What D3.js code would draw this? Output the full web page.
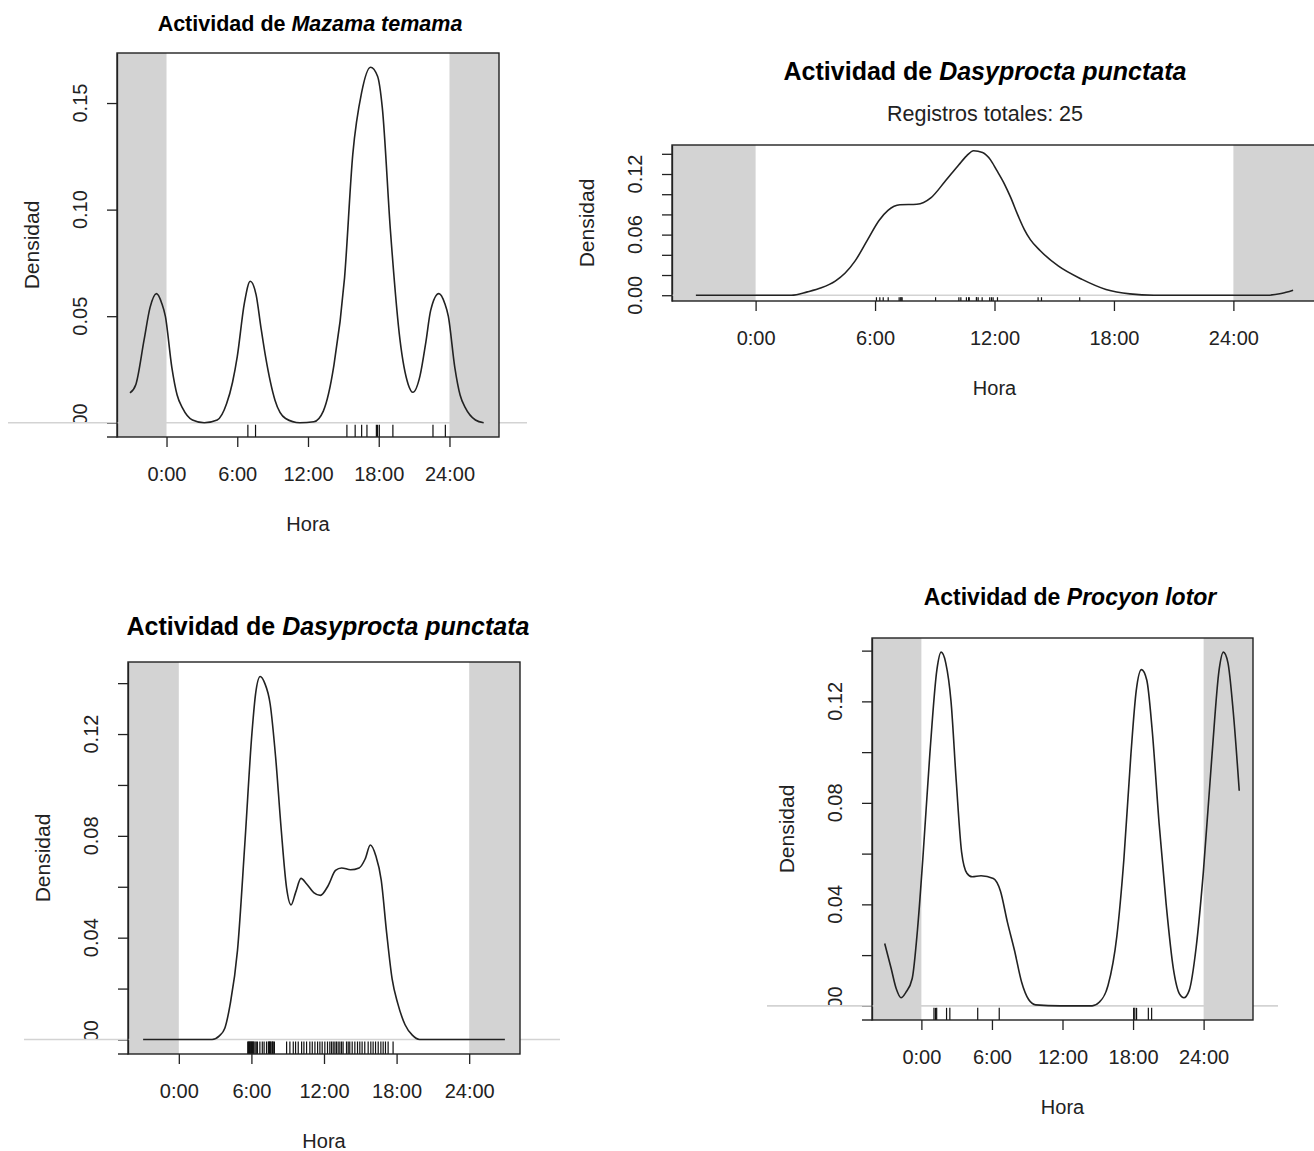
<!DOCTYPE html>
<html>
<head>
<meta charset="utf-8">
<script src="https://cdn.jsdelivr.net/npm/d3@7"></script>
<style>
    body { margin: 0; background: #fff; }
    svg text { font-family: "Liberation Sans", Arial, sans-serif; fill: #222; }
</style>
</head>
<body>
<svg id="chart" width="1314" height="1151"></svg>
<script>
// hour axis shared by every panel
const hourTicks = [0, 6, 12, 18, 24];
const hourLabels = ['0:00', '6:00', '12:00', '18:00', '24:00'];

// Mazama temama
const mazamaHours = [-3.1, -2.6, -1.9, -1.4, -0.85, -0.4, -0.1, 0.45, 0.9, 1.35, 2.2, 3.2, 4.3, 5.1, 5.6, 6.0, 6.6, 7.1, 7.6, 8.0, 8.4, 9.2, 10.1, 11.3, 12.5, 13.3, 14.2, 15.1, 15.8, 16.55, 17.3, 17.9, 18.3, 19.0, 19.8, 20.5, 20.9, 21.5, 22.0, 22.4, 23.1, 23.6, 23.9, 24.45, 24.9, 25.35, 26.2, 26.9];
const mazamaDensity = [0.014, 0.018, 0.039, 0.054, 0.0606, 0.056, 0.050, 0.026, 0.013, 0.007, 0.0013, 0.0, 0.0013, 0.009, 0.019, 0.031, 0.056, 0.0664, 0.060, 0.045, 0.031, 0.0106, 0.002, 0.0, 0.0005, 0.0055, 0.027, 0.068, 0.126, 0.155, 0.1668, 0.1626, 0.148, 0.0895, 0.039, 0.018, 0.0143, 0.022, 0.038, 0.0526, 0.0606, 0.056, 0.050, 0.026, 0.013, 0.007, 0.0013, 0.0];
const mazamaRecords = [6.9, 7.55, 15.3, 16.0, 16.55, 17.0, 17.8, 17.9, 18.05, 19.2, 22.6, 23.65];
const mazamaYTicks = [0, 0.05, 0.10, 0.15];
const mazamaYLabels = ['0.00', '0.05', '0.10', '0.15'];

// Dasyprocta punctata (top, 25 records)
const dasyTopHours = [-3.0, 1.8, 2.6, 3.3, 4.0, 4.5, 5.0, 5.6, 6.2, 6.65, 7.25, 8.1, 8.8, 9.5, 10.2, 10.6, 10.95, 11.4, 11.8, 12.1, 12.5, 12.8, 13.2, 13.5, 13.8, 14.3, 15.2, 16.4, 17.6, 18.8, 20.0, 25.7, 26.4, 27.0];
const dasyTopDensity = [0, 0, 0.0033, 0.0073, 0.014, 0.022, 0.034, 0.054, 0.074, 0.084, 0.0895, 0.090, 0.0963, 0.1123, 0.129, 0.138, 0.143, 0.1413, 0.134, 0.124, 0.110, 0.0973, 0.078, 0.065, 0.055, 0.044, 0.029, 0.0157, 0.0057, 0.0013, 0, 0, 0.0017, 0.005];
const dasyTopRecords = [6.07, 6.24, 6.41, 6.66, 7.21, 7.3, 7.36, 9.04, 10.21, 10.31, 10.59, 10.7, 10.73, 11.09, 11.1, 11.18, 11.38, 11.76, 11.85, 11.93, 12.15, 14.19, 14.36, 16.28, 7.3];
const dasyTopYTicks = [0, 0.02, 0.04, 0.06, 0.08, 0.10, 0.12, 0.14];
const dasyTopYLabels = ['0.00', '', '', '0.06', '', '', '0.12', ''];

// Dasyprocta punctata (bottom)
const dasyBotHours = [-2.95, 2.75, 3.35, 3.8, 4.25, 4.85, 5.45, 6.05, 6.35, 6.73, 7.1, 7.55, 8.0, 8.45, 8.9, 9.28, 9.65, 10.1, 10.55, 11.15, 11.7, 12.35, 12.95, 13.45, 14.2, 14.9, 15.4, 15.83, 16.28, 16.73, 17.18, 17.63, 18.1, 18.7, 19.3, 19.9, 26.95];
const dasyBotDensity = [0, 0, 0.0014, 0.0044, 0.014, 0.035, 0.0764, 0.1207, 0.136, 0.1426, 0.14, 0.1318, 0.111, 0.0833, 0.0598, 0.0529, 0.0577, 0.0633, 0.0612, 0.0577, 0.0566, 0.0605, 0.0664, 0.0674, 0.0667, 0.0674, 0.0709, 0.0764, 0.0722, 0.0626, 0.0418, 0.0238, 0.0141, 0.0058, 0.0017, 0, 0];
const dasyBotRecords = [5.7, 5.75, 5.8, 5.85, 5.9, 5.95, 6.0, 6.05, 6.1, 6.15, 6.2, 6.3, 6.4, 6.5, 6.7, 6.9, 7.05, 7.25, 7.4, 7.45, 7.5, 7.55, 7.6, 7.7, 7.75, 7.8, 7.9,
    8.91, 9.18, 9.46, 9.65, 9.87, 10.15, 10.34, 10.56, 10.83, 11.03, 11.25, 11.47, 11.66, 11.85, 12.07, 12.29, 12.48, 12.62, 12.76, 12.9, 13.03, 13.17, 13.31, 13.45, 13.58, 13.86, 14.0, 14.13, 14.33, 14.55, 14.77, 14.96, 15.15, 15.37, 15.65, 15.87, 16.06, 16.26, 16.48, 16.7, 16.89, 17.08, 17.3, 17.71];
const dasyBotYTicks = [0, 0.02, 0.04, 0.06, 0.08, 0.10, 0.12, 0.14];
const dasyBotYLabels = ['0.00', '', '0.04', '', '0.08', '', '0.12', ''];

// Procyon lotor
const procyonHours = [-3.12, -2.58, -2.13, -1.74, -1.32, -0.78, -0.33, 0.12, 0.72, 1.32, 1.68, 2.07, 2.52, 2.97, 3.42, 3.87, 4.32, 5.07, 6.12, 6.72, 7.32, 7.92, 8.52, 9.12, 9.72, 11.82, 14.52, 15.12, 15.87, 16.62, 17.22, 17.82, 18.27, 18.72, 19.17, 19.62, 20.22, 20.82, 21.42, 21.96, 22.32, 22.77, 23.37, 23.97, 24.72, 25.32, 25.68, 26.07, 26.52, 27.03];
const procyonDensity = [0.0246, 0.0149, 0.0066, 0.0032, 0.0053, 0.0108, 0.0301, 0.0578, 0.0993, 0.1325, 0.1394, 0.1352, 0.12, 0.0882, 0.0606, 0.0523, 0.0509, 0.0513, 0.0502, 0.0453, 0.0329, 0.0218, 0.0094, 0.0025, 0.0004, 0, 0, 0.0014, 0.008, 0.0274, 0.0578, 0.0993, 0.1242, 0.1325, 0.1283, 0.109, 0.0716, 0.0398, 0.0149, 0.0046, 0.0032, 0.006, 0.0232, 0.0523, 0.0993, 0.1325, 0.1394, 0.1352, 0.1159, 0.0848];
const procyonRecords = [1.07, 1.2, 1.3, 2.14, 2.42, 4.79, 6.62, 18.05, 18.15, 18.3, 19.3, 19.58];
const procyonYTicks = [0, 0.02, 0.04, 0.06, 0.08, 0.10, 0.12, 0.14];
const procyonYLabels = ['0.00', '', '0.04', '', '0.08', '', '0.12', ''];

const svg = d3.select('#chart');

class ActivityPanel {
    constructor(opts) {
        this.o = opts;
        this.g = svg.append('g');
        this.x = d3.scaleLinear().domain([-4.2, 28.2]).range([opts.box.l, opts.box.r]);
        const ymax = d3.max(opts.density);
        this.y = d3.scaleLinear().domain([-0.04 * ymax, 1.04 * ymax]).range([opts.box.b, opts.box.t]);
        this.draw();
    }

    draw() {
        const o = this.o, x = this.x, y = this.y, g = this.g;
        const b = o.box;

        // night shading
        g.append('rect').attr('x', b.l).attr('y', b.t)
            .attr('width', x(0) - b.l).attr('height', b.b - b.t).attr('fill', '#d3d3d3');
        g.append('rect').attr('x', x(24)).attr('y', b.t)
            .attr('width', b.r - x(24)).attr('height', b.b - b.t).attr('fill', '#d3d3d3');

        // y axis (ticks only, labels drawn rotated below)
        g.append('g').attr('transform', `translate(${b.l},0)`)
            .call(d3.axisLeft(y).tickValues(o.yTicks).tickSize(10).tickSizeOuter(0).tickFormat(''))
            .call(a => a.selectAll('line,path').attr('stroke', '#222').attr('stroke-width', 1.3));

        const clipId = 'clip-' + o.id;
        g.append('clipPath').attr('id', clipId)
            .append('rect').attr('x', 0).attr('y', 0).attr('width', 1314)
            .attr('height', o.clipZero ? y(0) : 1151);

        g.append('g').attr('clip-path', `url(#${clipId})`)
            .selectAll('text').data(o.yTicks.map((v, i) => ({v, label: o.yLabels[i]})).filter(d => d.label))
            .join('text')
            .attr('transform', d => `translate(${b.l - 37},${y(d.v)}) rotate(-90)`)
            .attr('text-anchor', 'middle')
            .attr('dominant-baseline', 'central')
            .style('font-size', '20px')
            .text(d => d.label);

        // zero line
        g.append('line')
            .attr('x1', o.zeroLine[0]).attr('x2', o.zeroLine[1])
            .attr('y1', y(0)).attr('y2', y(0))
            .attr('stroke', '#d3d3d3').attr('stroke-width', 1.6);

        // density curve
        const pts = o.hours.map((h, i) => [h, o.density[i]]);
        g.append('path').datum(pts)
            .attr('d', d3.line().x(d => x(d[0])).y(d => y(d[1])).curve(d3.curveMonotoneX))
            .attr('fill', 'none').attr('stroke', '#222').attr('stroke-width', 1.6);

        // rug of records
        g.append('g').selectAll('line').data(o.records).join('line')
            .attr('x1', d => x(d)).attr('x2', d => x(d))
            .attr('y1', y(0) + 2).attr('y2', b.b)
            .attr('stroke', '#111').attr('stroke-width', 1.2);

        // box
        g.append('rect').attr('x', b.l).attr('y', b.t)
            .attr('width', b.r - b.l).attr('height', b.b - b.t)
            .attr('fill', 'none').attr('stroke', '#222').attr('stroke-width', 1.4);

        if (o.extendBottom) {
            g.append('line').attr('x1', b.l - 10).attr('x2', b.l)
                .attr('y1', b.b).attr('y2', b.b)
                .attr('stroke', '#222').attr('stroke-width', 1.4);
        }

        // x axis
        g.append('g').attr('transform', `translate(0,${b.b})`)
            .call(d3.axisBottom(x).tickValues(hourTicks).tickSize(10).tickSizeOuter(0)
                .tickFormat((d, i) => hourLabels[i]))
            .call(a => a.select('.domain').remove())
            .call(a => a.selectAll('line').attr('stroke', '#222').attr('stroke-width', 1.3))
            .call(a => a.selectAll('text')
                .attr('y', 37).attr('dy', null)
                .attr('dominant-baseline', 'central')
                .attr('fill', '#222')
                .style('font-size', '20px')
                .style('font-family', '"Liberation Sans", Arial, sans-serif'));

        // axis titles
        g.append('text')
            .attr('transform', `translate(${b.l - 86},${(b.t + b.b) / 2}) rotate(-90)`)
            .attr('text-anchor', 'middle').attr('dominant-baseline', 'central')
            .style('font-size', '21px').text('Densidad');
        g.append('text')
            .attr('x', (b.l + b.r) / 2).attr('y', b.b + 87)
            .attr('text-anchor', 'middle').attr('dominant-baseline', 'central')
            .style('font-size', '20px').text('Hora');

        // title
        const title = g.append('text')
            .attr('x', o.titleX).attr('y', o.titleY)
            .attr('text-anchor', 'middle').attr('dominant-baseline', 'central')
            .style('font-size', o.titleSize + 'px').style('font-weight', 'bold')
            .style('fill', '#000');
        title.append('tspan').text('Actividad de ');
        title.append('tspan').style('font-style', 'italic').text(o.species);

        if (o.subtitleY) {
            g.append('text')
                .attr('x', o.titleX).attr('y', o.subtitleY)
                .attr('text-anchor', 'middle').attr('dominant-baseline', 'central')
                .style('font-size', '21.5px')
                .text('Registros totales: ' + o.records.length);
        }
    }
}

new ActivityPanel({
    id: 'mazama', species: 'Mazama temama',
    hours: mazamaHours, density: mazamaDensity, records: mazamaRecords,
    yTicks: mazamaYTicks, yLabels: mazamaYLabels,
    box: {l: 117, r: 499, t: 53, b: 437},
    zeroLine: [8, 527], clipZero: true, extendBottom: true,
    titleX: 310, titleY: 24, titleSize: 21.5
});

new ActivityPanel({
    id: 'dasyTop', species: 'Dasyprocta punctata',
    hours: dasyTopHours, density: dasyTopDensity, records: dasyTopRecords,
    yTicks: dasyTopYTicks, yLabels: dasyTopYLabels,
    box: {l: 672, r: 1317, t: 145, b: 301},
    zeroLine: [672, 1314], clipZero: false, extendBottom: false,
    titleX: 985, titleY: 71, titleSize: 25, subtitleY: 114
});

new ActivityPanel({
    id: 'dasyBot', species: 'Dasyprocta punctata',
    hours: dasyBotHours, density: dasyBotDensity, records: dasyBotRecords,
    yTicks: dasyBotYTicks, yLabels: dasyBotYLabels,
    box: {l: 128, r: 520, t: 662, b: 1054},
    zeroLine: [24, 560], clipZero: true, extendBottom: true,
    titleX: 328, titleY: 626, titleSize: 25
});

new ActivityPanel({
    id: 'procyon', species: 'Procyon lotor',
    hours: procyonHours, density: procyonDensity, records: procyonRecords,
    yTicks: procyonYTicks, yLabels: procyonYLabels,
    box: {l: 872, r: 1253, t: 638, b: 1020},
    zeroLine: [767, 1278], clipZero: true, extendBottom: true,
    titleX: 1070, titleY: 597, titleSize: 23
});
</script>
</body>
</html>
